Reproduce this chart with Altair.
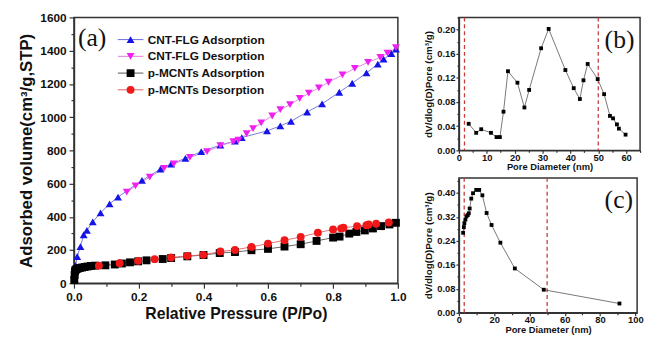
import altair as alt
import pandas as pd

FONT = "Liberation Sans"
SERIF = "Liberation Serif"

# ---------------- Panel (a): isotherms ----------------
series_names = ["CNT-FLG Adsorption", "CNT-FLG Desorption", "p-MCNTs Adsorption", "p-MCNTs Desorption"]
point_colors = ["#1414e6", "#f020f0", "#000000", "#f01818"]
line_colors = ["#6a6ad8", "#e47ae4", "#555555", "#e06060"]
point_shapes = ["triangle-up", "triangle-down", "square", "circle"]
point_sizes = [64, 64, 42, 64]

cnt_ads_p = [0.002, 0.005, 0.01, 0.02, 0.03, 0.04, 0.058, 0.082, 0.11, 0.136, 0.21, 0.267, 0.30,
             0.344, 0.393, 0.452, 0.497, 0.518, 0.596, 0.637, 0.67, 0.72, 0.766, 0.819, 0.859,
             0.903, 0.938, 0.956, 0.98, 0.994]
cnt_ads_v = [26, 107, 161, 221, 292, 318, 370, 424, 478, 519, 619, 687, 718,
             752, 792, 832, 856, 877, 917, 947, 975, 1031, 1080, 1150, 1204,
             1266, 1319, 1349, 1383, 1409]

cnt_des_p = [0.994, 0.968, 0.946, 0.908, 0.867, 0.829, 0.786, 0.756, 0.725, 0.697, 0.667, 0.637,
             0.612, 0.578, 0.553, 0.533, 0.508, 0.492, 0.452, 0.411, 0.358, 0.308, 0.278, 0.234,
             0.19, 0.163]
cnt_des_v = [1418, 1385, 1359, 1330, 1294, 1254, 1210, 1176, 1144, 1112, 1075, 1045,
             1007, 965, 931, 901, 862, 852, 828, 792, 758, 718, 692, 639,
             586, 549]

mc_ads_p = [0.001, 0.002, 0.003, 0.005, 0.008, 0.012, 0.018, 0.025, 0.033, 0.042, 0.052, 0.065,
            0.097, 0.126, 0.148, 0.173, 0.198, 0.224, 0.274, 0.30, 0.35, 0.40, 0.45, 0.497,
            0.548, 0.599, 0.65, 0.70, 0.749, 0.80, 0.82, 0.85, 0.872, 0.898, 0.923, 0.948,
            0.974, 0.994]
mc_ads_v = [20, 50, 70, 80, 86, 89, 92, 95, 98, 101, 104, 106,
            108, 113, 119, 126, 132, 138, 146, 152, 162, 170, 182, 188,
            199, 207, 221, 235, 255, 275, 281, 299, 309, 318, 330, 344,
            354, 364]

mc_des_p = [0.972, 0.933, 0.91, 0.903, 0.874, 0.832, 0.825, 0.80, 0.753, 0.70, 0.65, 0.599,
            0.548, 0.497, 0.452, 0.399, 0.35, 0.30, 0.249, 0.198, 0.141, 0.077]
mc_des_v = [366, 358, 354, 350, 344, 334, 330, 324, 304, 279, 259, 239,
            219, 201, 191, 171, 165, 155, 145, 135, 121, 106]

a_x_ticks = [0.0, 0.1, 0.2, 0.3, 0.4, 0.5, 0.6, 0.7, 0.8, 0.9, 1.0]
a_y_ticks = [0, 100, 200, 300, 400, 500, 600, 700, 800, 900, 1000, 1100, 1200, 1300, 1400, 1500, 1600]

# ---------------- Panel (b) ----------------
b_d = [3.5, 6.2, 8.0, 11.5, 13.5, 14.7, 16.0, 17.6, 21.0, 23.5, 25.2, 29.5, 32.2, 38.2, 41.2,
       43.4, 44.7, 46.2, 49.8, 52.1, 54.2, 55.3, 56.7, 57.4, 59.8]
b_v = [0.044, 0.029, 0.035, 0.029, 0.022, 0.022, 0.064, 0.131, 0.112, 0.071, 0.100, 0.169, 0.201,
       0.133, 0.103, 0.085, 0.116, 0.143, 0.118, 0.093, 0.057, 0.053, 0.043, 0.036, 0.026]
b_ref = [2, 50]
b_x_ticks = [0, 5, 10, 15, 20, 25, 30, 35, 40, 45, 50, 55, 60, 65]
b_y_ticks = [0.0, 0.02, 0.04, 0.06, 0.08, 0.10, 0.12, 0.14, 0.16, 0.18, 0.20, 0.22]

# ---------------- Panel (c) ----------------
c_d = [2.4, 2.8, 3.1, 3.7, 4.3, 5.0, 5.6, 6.1, 7.0, 8.0, 9.8, 11.5, 13.3, 15.7, 18.5, 23.5,
       31.7, 48.1, 91.0]
c_v = [0.267, 0.286, 0.299, 0.311, 0.322, 0.326, 0.332, 0.348, 0.381, 0.399, 0.410, 0.410,
       0.392, 0.333, 0.293, 0.234, 0.148, 0.077, 0.031]
c_ref = [3, 50]
c_x_ticks = [0, 10, 20, 30, 40, 50, 60, 70, 80, 90, 100]
c_y_ticks = [0.0, 0.04, 0.08, 0.12, 0.16, 0.20, 0.24, 0.28, 0.32, 0.36, 0.40, 0.44]

AXIS_COLOR = "#333333"


def make_axis(values, major_test, fmt, title, label_size, title_size, tick_major, tick_minor,
              label_pad, title_pad):
    return alt.Axis(
        values=values, title=title,
        labelExpr=f"({major_test}) ? format(datum.value, '{fmt}') : ''",
        tickSize={"condition": {"test": major_test, "value": tick_major}, "value": tick_minor},
        labelFont=FONT, labelFontSize=label_size, labelFontWeight="bold", labelColor="#111111",
        titleFont=FONT, titleFontSize=title_size, titleFontWeight="bold", titleColor="#111111",
        labelPadding=label_pad, titlePadding=title_pad,
        domainColor=AXIS_COLOR, domainWidth=1.5, tickColor=AXIS_COLOR, tickWidth=1.2,
        grid=False, labelOverlap=False, labelFlush=False,
    )


# ---- panel (a) chart ----
rows = []
for name, ps, vs in zip(series_names, [cnt_ads_p, cnt_des_p, mc_ads_p, mc_des_p],
                        [cnt_ads_v, cnt_des_v, mc_ads_v, mc_des_v]):
    for p, v in zip(ps, vs):
        rows.append({"P": p, "V": v, "series": name, "series_line": name})
df_a = pd.DataFrame(rows)

ax_x = alt.X("P:Q", scale=alt.Scale(domain=[0, 1], nice=False, zero=False),
             axis=make_axis(a_x_ticks, "round(datum.value*10) % 2 === 0", ".1f",
                            "Relative Pressure (P/Po)", 12, 16, 5, 3, 3, 4))
ax_y = alt.Y("V:Q", scale=alt.Scale(domain=[0, 1600], nice=False),
             axis=make_axis(a_y_ticks, "datum.value % 200 === 0", "d",
                            "Adsorbed volume(cm³/g,STP)", 12, 17, 5, 3, 3, 4))

LEG_X, LEG_Y = 44, 14
legend_lines = alt.Legend(
    title=None, orient="none", legendX=LEG_X, legendY=LEG_Y,
    labelFont=FONT, labelFontSize=12, labelFontWeight="bold", labelColor="#111111",
    symbolType="stroke", symbolSize=676, symbolStrokeWidth=1, clipHeight=17,
    rowPadding=0, padding=0, labelOffset=4, symbolOffset=0, zindex=1,
)
legend_marks = alt.Legend(
    title=None, orient="none", legendX=LEG_X, legendY=LEG_Y,
    labelFont=FONT, labelFontSize=12, labelFontWeight="bold", labelExpr="''",
    symbolSize=64, symbolStrokeWidth=0, clipHeight=17,
    rowPadding=0, padding=0, labelOffset=4, symbolOffset=7.5, zindex=2,
)

lines_a = alt.Chart(df_a).mark_line(strokeWidth=0.9).encode(
    x=ax_x, y=ax_y,
    stroke=alt.Stroke("series_line:N", scale=alt.Scale(range=line_colors), legend=legend_lines),
)
points_a = alt.Chart(df_a).mark_point(filled=True, opacity=1).encode(
    x=ax_x, y=ax_y,
    color=alt.Color("series:N", scale=alt.Scale(domain=series_names, range=point_colors), legend=legend_marks),
    shape=alt.Shape("series:N", scale=alt.Scale(domain=series_names, range=point_shapes), legend=legend_marks),
    size=alt.Size("series:N", scale=alt.Scale(domain=series_names, range=point_sizes), legend=None),
)
label_a = alt.Chart(pd.DataFrame({"t": ["(a)"]})).mark_text(
    font=SERIF, fontSize=26, align="left", baseline="alphabetic", color="#111111"
).encode(text="t:N", x=alt.value(4), y=alt.value(29))

panel_a = alt.layer(lines_a, points_a, label_a).properties(width=329, height=270)


# ---- panels (b), (c) ----
def psd_panel(ds, vs, refs, x_dom, y_dom, x_ticks, x_test, y_ticks, y_test, width, height, tag):
    df = pd.DataFrame({"D": ds, "v": vs})
    ax = alt.X("D:Q", scale=alt.Scale(domain=x_dom, nice=False, zero=False),
               axis=make_axis(x_ticks, x_test, "d", "Pore Diameter (nm)", 9.5, 9.5, 3, 2, -1, 0))
    ay = alt.Y("v:Q", scale=alt.Scale(domain=y_dom, nice=False),
               axis=make_axis(y_ticks, y_test, ".2f", "dV/dlog(D)Pore (cm³/g)", 9.5, 10, 3, 2, 1, 3))
    line = alt.Chart(df).mark_line(color="#555555", strokeWidth=0.8).encode(x=ax, y=ay)
    pts = alt.Chart(df).mark_point(shape="square", filled=True, opacity=1, color="#000000",
                                   size=15).encode(x=ax, y=ay)
    ref = alt.Chart(pd.DataFrame({"D": refs})).mark_rule(
        color="#c83c3c", strokeDash=[4, 3], strokeWidth=1.3).encode(x=ax)
    lab = alt.Chart(pd.DataFrame({"t": [tag]})).mark_text(
        font=SERIF, fontSize=26, align="left", baseline="alphabetic", color="#111111"
    ).encode(text="t:N", x=alt.value(148), y=alt.value(31))
    return alt.layer(ref, line, pts, lab).properties(width=width, height=height)


panel_b = psd_panel(b_d, b_v, b_ref, [0, 65], [0, 0.22], b_x_ticks, "datum.value % 10 === 0",
                    b_y_ticks, "round(datum.value*100) % 4 === 0", 184, 135, "(b)")
panel_c = psd_panel(c_d, c_v, c_ref, [0, 101], [0, 0.45], c_x_ticks, "datum.value % 20 === 0",
                    c_y_ticks, "round(datum.value*100) % 8 === 0", 181, 137, "(c)")

right = alt.vconcat(panel_b, panel_c, spacing=3)

chart = alt.hconcat(panel_a, right, spacing=15).resolve_scale(
    color="independent", shape="independent", size="independent", stroke="independent"
).properties(
    padding={"left": 9, "top": 0, "right": 0, "bottom": 2}
).configure_view(stroke="#333333", strokeWidth=1.5)

chart.save("out.html", embed_options={"renderer": "svg", "actions": False})
